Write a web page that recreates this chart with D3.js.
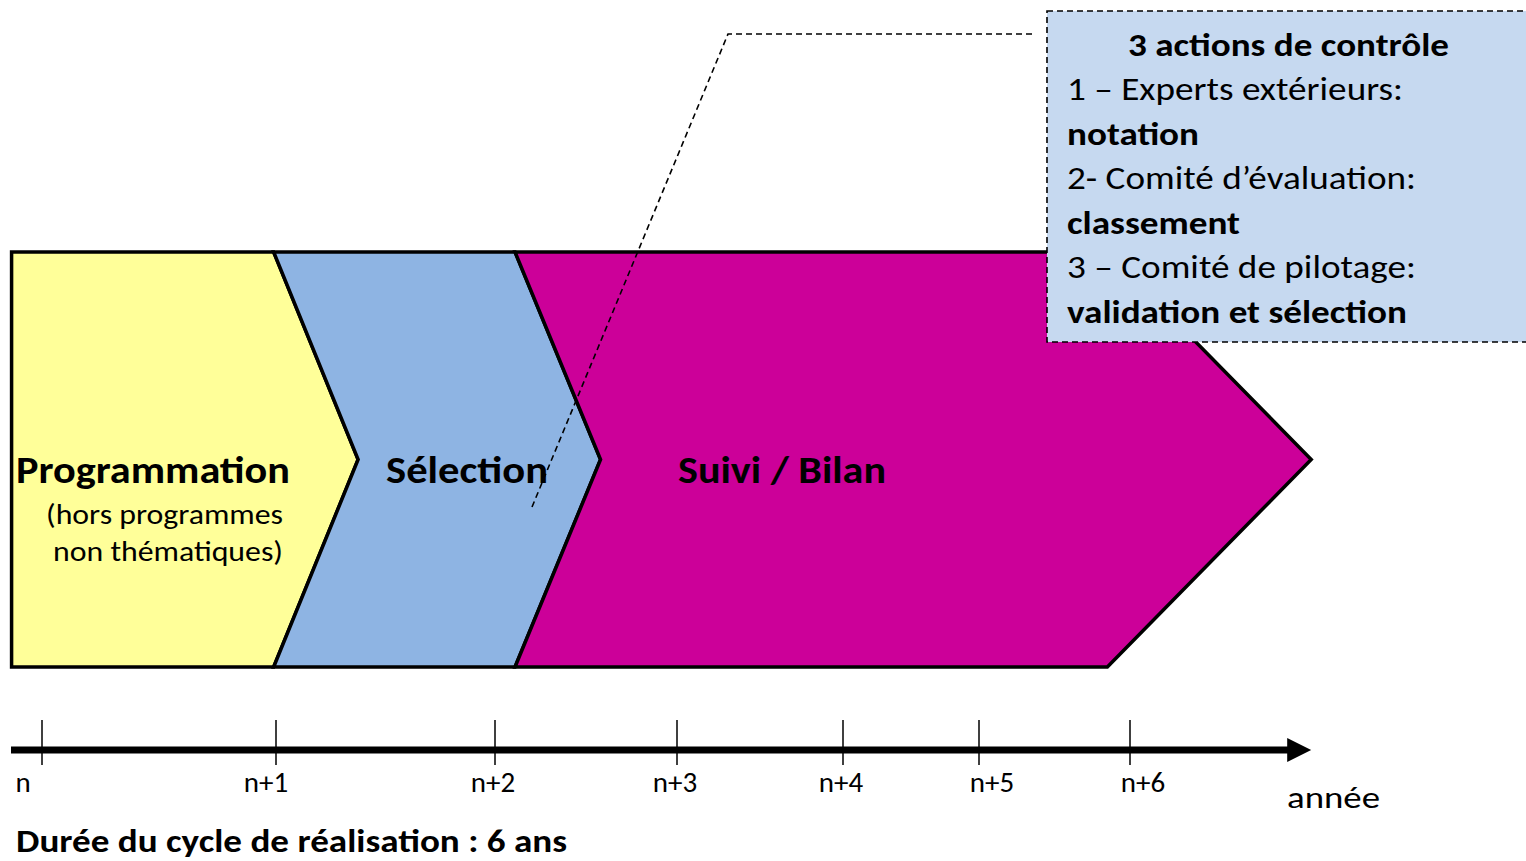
<!DOCTYPE html>
<html>
<head>
<meta charset="utf-8">
<script src="https://cdn.jsdelivr.net/npm/d3@7"></script>
<style>
  html, body { margin: 0; padding: 0; background: #fff; }
  svg { display: block; font-family: Carlito, Calibri, Lato, "Open Sans", sans-serif; }
</style>
</head>
<body>
<svg id="chart" width="1526" height="861"></svg>
<script>
// years on the time axis
var yearLabels = ["n", "n+1", "n+2", "n+3", "n+4", "n+5", "n+6"];
var yearValues = [0, 1, 2, 3, 4, 5, 6];

// phases of the cycle (in year units)
var phaseNames = ["Programmation", "Sélection", "Suivi / Bilan"];
var phaseStart = [-0.13, 0.99, 2.11];
var phaseEnd = [0.99, 2.11, 5.85];
var phaseTip = [1.375, 2.58, 7.2];
var phaseColors = ["#ffff99", "#8eb4e3", "#cc0099"];

// callout
var calloutTitle = "3 actions de contrôle";
var calloutLines = [
  { text: "1 – Experts extérieurs:", bold: false, w: 336 },
  { text: "notation", bold: true, w: 132 },
  { text: "2- Comité d’évaluation:", bold: false, w: 349 },
  { text: "classement", bold: true, w: 173 },
  { text: "3 – Comité de pilotage:", bold: false, w: 349 },
  { text: "validation et sélection", bold: true, w: 340 }
];

var axisEnd = 7.2;

var svg = d3.select("#chart"),
  width = +svg.attr("width"),
  height = +svg.attr("height");

// piecewise scale: the slide does not space years evenly
var x = d3.scaleLinear()
  .domain(yearValues)
  .range([42, 276, 495, 677, 843, 979, 1130]);

var y = d3.scaleLinear().domain([0, 1]).range([252, 667]);
var yMid = y(0.5);

// chevrons
var phases = phaseNames.map(function (name, i) {
  return { name: name, start: phaseStart[i], end: phaseEnd[i], tip: phaseTip[i], color: phaseColors[i], i: i };
});

function chevron(d) {
  var pts = [];
  if (d.i === 0) {
    pts.push([x(d.start), y(0)]);
  } else {
    var prev = phases[d.i - 1];
    pts.push([x(prev.end), y(0)]);
  }
  pts.push([x(d.end), y(0)]);
  pts.push([x(d.tip), yMid]);
  pts.push([x(d.end), y(1)]);
  if (d.i === 0) {
    pts.push([x(d.start), y(1)]);
  } else {
    var p = phases[d.i - 1];
    pts.push([x(p.end), y(1)]);
    pts.push([x(p.tip), yMid]);
  }
  return d3.line()(pts) + "Z";
}

svg.append("g")
  .selectAll("path")
  .data(phases)
  .enter()
  .append("path")
  .attr("d", chevron)
  .attr("fill", function (d) { return d.color; })
  .attr("stroke", "#000")
  .attr("stroke-width", 3.5)
  .attr("stroke-linejoin", "miter");

// phase labels
svg.append("text")
  .attr("x", 16).attr("y", 483)
  .attr("font-size", 38).attr("font-weight", "bold")
  .attr("textLength", 274).attr("lengthAdjust", "spacingAndGlyphs")
  .text(phaseNames[0]);
svg.append("text")
  .attr("x", 46).attr("y", 524)
  .attr("font-size", 28)
  .attr("textLength", 237).attr("lengthAdjust", "spacingAndGlyphs")
  .text("(hors programmes");
svg.append("text")
  .attr("x", 53).attr("y", 561)
  .attr("font-size", 28)
  .attr("textLength", 230).attr("lengthAdjust", "spacingAndGlyphs")
  .text("non thématiques)");
svg.append("text")
  .attr("x", 386).attr("y", 483)
  .attr("font-size", 38).attr("font-weight", "bold")
  .attr("textLength", 162).attr("lengthAdjust", "spacingAndGlyphs")
  .text(phaseNames[1]);
svg.append("text")
  .attr("x", 678).attr("y", 483)
  .attr("font-size", 38).attr("font-weight", "bold")
  .attr("textLength", 208).attr("lengthAdjust", "spacingAndGlyphs")
  .text(phaseNames[2]);

// callout box
var box = svg.append("g");
box.append("rect")
  .attr("x", 1047).attr("y", 11)
  .attr("width", 500).attr("height", 331)
  .attr("fill", "#c6d9f0")
  .attr("stroke", "#000")
  .attr("stroke-width", 1.6)
  .attr("stroke-dasharray", "6,4");

box.append("text")
  .attr("x", 1128).attr("y", 56)
  .attr("font-size", 33).attr("font-weight", "bold")
  .attr("textLength", 321).attr("lengthAdjust", "spacingAndGlyphs")
  .text(calloutTitle);

box.selectAll("text.line")
  .data(calloutLines)
  .enter()
  .append("text")
  .attr("class", "line")
  .attr("x", 1067)
  .attr("y", function (d, i) { return 100 + i * 44.6; })
  .attr("font-size", 32)
  .attr("font-weight", function (d) { return d.bold ? "bold" : "normal"; })
  .attr("textLength", function (d) { return d.w; })
  .attr("lengthAdjust", "spacingAndGlyphs")
  .text(function (d) { return d.text; });

// callout pointer
svg.append("path")
  .attr("d", d3.line()([[1032, 34], [728, 34], [532, 507]]))
  .attr("fill", "none")
  .attr("stroke", "#000")
  .attr("stroke-width", 1.6)
  .attr("stroke-dasharray", "6,4");

// time axis
var axisY = 750;
svg.append("line")
  .attr("x1", 11).attr("x2", x(axisEnd) - 20)
  .attr("y1", axisY).attr("y2", axisY)
  .attr("stroke", "#000")
  .attr("stroke-width", 7);
svg.append("path")
  .attr("d", d3.line()([[x(axisEnd) - 24, axisY - 12], [x(axisEnd), axisY], [x(axisEnd) - 24, axisY + 12]]) + "Z")
  .attr("fill", "#000");

svg.append("g")
  .selectAll("line")
  .data(yearValues)
  .enter()
  .append("line")
  .attr("x1", function (d) { return x(d); })
  .attr("x2", function (d) { return x(d); })
  .attr("y1", 720).attr("y2", 765)
  .attr("stroke", "#000")
  .attr("stroke-width", 1.5);

// tick labels sit a little off the ticks on the slide
var labelShift = [-19, -10, -2, -2, -2, 13, 13];
svg.append("g")
  .selectAll("text")
  .data(yearValues)
  .enter()
  .append("text")
  .attr("x", function (d, i) { return x(d) + labelShift[i]; })
  .attr("y", 792)
  .attr("text-anchor", "middle")
  .attr("font-size", 29)
  .text(function (d, i) { return yearLabels[i]; });

svg.append("text")
  .attr("x", 1287).attr("y", 808)
  .attr("font-size", 30)
  .attr("textLength", 93).attr("lengthAdjust", "spacingAndGlyphs")
  .text("année");

svg.append("text")
  .attr("x", 16).attr("y", 852)
  .attr("font-size", 32).attr("font-weight", "bold")
  .attr("textLength", 551).attr("lengthAdjust", "spacingAndGlyphs")
  .text("Durée du cycle de réalisation : 6 ans");
</script>
</body>
</html>
